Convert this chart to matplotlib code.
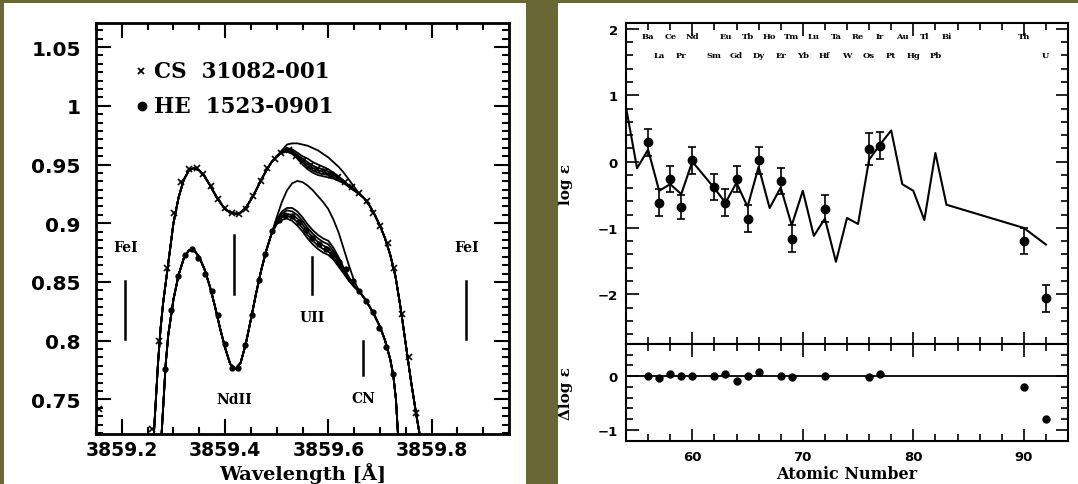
import matplotlib.pyplot as plt
import numpy as np
from matplotlib.patches import Rectangle
from matplotlib.ticker import MultipleLocator

# ---------------- left panel: spectra ----------------
# common parts of the synthetic spectra (wavelength, flux)
cs_left = [(3859.262, 0.72), (3859.266, 0.75), (3859.27, 0.78), (3859.275, 0.81), (3859.28, 0.832),
           (3859.29, 0.866), (3859.30, 0.900), (3859.31, 0.922), (3859.32, 0.937), (3859.33, 0.945),
           (3859.34, 0.947), (3859.35, 0.945), (3859.36, 0.940), (3859.37, 0.933), (3859.38, 0.925),
           (3859.39, 0.918), (3859.40, 0.912), (3859.41, 0.909), (3859.42, 0.908), (3859.43, 0.909),
           (3859.44, 0.913), (3859.45, 0.920), (3859.46, 0.928), (3859.47, 0.937), (3859.48, 0.945),
           (3859.49, 0.952), (3859.50, 0.957)]
cs_right = [(3859.66, 0.925), (3859.67, 0.921), (3859.68, 0.915), (3859.69, 0.907), (3859.70, 0.898),
            (3859.71, 0.887), (3859.72, 0.873), (3859.73, 0.855), (3859.74, 0.828), (3859.75, 0.797),
            (3859.76, 0.766), (3859.77, 0.738), (3859.777, 0.72)]
cs_mid_wl = [3859.51, 3859.52, 3859.53, 3859.54, 3859.55, 3859.56, 3859.57, 3859.58,
             3859.59, 3859.60, 3859.61, 3859.62, 3859.63, 3859.64, 3859.65]
cs_models = [
    [0.962, 0.967, 0.968, 0.968, 0.967, 0.966, 0.964, 0.962, 0.959, 0.956, 0.952, 0.948, 0.943, 0.937, 0.931],
    [0.961, 0.964, 0.963, 0.960, 0.957, 0.955, 0.952, 0.950, 0.948, 0.946, 0.943, 0.940, 0.936, 0.932, 0.928],
    [0.961, 0.963, 0.962, 0.958, 0.955, 0.952, 0.949, 0.947, 0.946, 0.944, 0.942, 0.939, 0.936, 0.932, 0.928],
    [0.960, 0.962, 0.961, 0.957, 0.953, 0.950, 0.947, 0.945, 0.944, 0.942, 0.941, 0.938, 0.935, 0.931, 0.928],
    [0.960, 0.962, 0.960, 0.956, 0.952, 0.948, 0.945, 0.943, 0.942, 0.941, 0.939, 0.937, 0.935, 0.931, 0.928],
    [0.960, 0.961, 0.959, 0.955, 0.950, 0.946, 0.943, 0.941, 0.940, 0.939, 0.938, 0.936, 0.934, 0.931, 0.928],
]

he_left = [(3859.277, 0.72), (3859.281, 0.75), (3859.285, 0.78), (3859.29, 0.805), (3859.30, 0.835),
           (3859.31, 0.856), (3859.32, 0.870), (3859.33, 0.877), (3859.34, 0.877), (3859.35, 0.871),
           (3859.36, 0.861), (3859.37, 0.847), (3859.38, 0.830), (3859.39, 0.811), (3859.40, 0.794),
           (3859.41, 0.780), (3859.42, 0.776), (3859.43, 0.781), (3859.44, 0.797), (3859.45, 0.818),
           (3859.46, 0.840), (3859.47, 0.860), (3859.48, 0.877), (3859.49, 0.891)]
he_right = [(3859.66, 0.842), (3859.67, 0.836), (3859.68, 0.829), (3859.69, 0.821), (3859.70, 0.812),
            (3859.71, 0.800), (3859.72, 0.784), (3859.726, 0.77), (3859.731, 0.75), (3859.735, 0.72)]
he_mid_wl = [3859.50, 3859.51, 3859.52, 3859.53, 3859.54, 3859.55, 3859.56, 3859.57,
             3859.58, 3859.59, 3859.60, 3859.61, 3859.62, 3859.63, 3859.64, 3859.65]
he_models = [
    [0.905, 0.918, 0.928, 0.934, 0.936, 0.935, 0.932, 0.928, 0.923, 0.918, 0.912, 0.903, 0.892, 0.878, 0.864, 0.851],
    [0.903, 0.910, 0.913, 0.913, 0.910, 0.905, 0.899, 0.894, 0.890, 0.887, 0.885, 0.879, 0.871, 0.862, 0.854, 0.847],
    [0.902, 0.908, 0.911, 0.910, 0.907, 0.902, 0.896, 0.891, 0.887, 0.884, 0.882, 0.876, 0.869, 0.861, 0.853, 0.846],
    [0.901, 0.906, 0.908, 0.907, 0.904, 0.899, 0.893, 0.888, 0.884, 0.881, 0.879, 0.874, 0.867, 0.860, 0.852, 0.846],
    [0.900, 0.905, 0.906, 0.905, 0.901, 0.896, 0.890, 0.885, 0.881, 0.878, 0.876, 0.871, 0.865, 0.858, 0.851, 0.846],
    [0.899, 0.903, 0.904, 0.902, 0.898, 0.893, 0.887, 0.882, 0.878, 0.875, 0.873, 0.869, 0.863, 0.857, 0.851, 0.846],
]

# observed points
cs_obs_wl = [3859.155, 3859.258, 3859.273, 3859.288, 3859.302, 3859.315, 3859.330, 3859.345, 3859.358,
             3859.372, 3859.386, 3859.400, 3859.413, 3859.427, 3859.441, 3859.455, 3859.469, 3859.482,
             3859.496, 3859.509, 3859.523, 3859.537, 3859.550, 3859.564, 3859.578, 3859.591, 3859.605,
             3859.619, 3859.632, 3859.646, 3859.660, 3859.674, 3859.687, 3859.701, 3859.715, 3859.728,
             3859.742, 3859.756, 3859.770]
cs_obs_fl = [0.742, 0.725, 0.800, 0.862, 0.909, 0.935, 0.946, 0.947, 0.942, 0.932, 0.921, 0.913, 0.909,
             0.908, 0.912, 0.923, 0.936, 0.947, 0.955, 0.960, 0.962, 0.957, 0.953, 0.949, 0.946, 0.944,
             0.941, 0.939, 0.935, 0.931, 0.926, 0.919, 0.909, 0.898, 0.883, 0.862, 0.823, 0.786, 0.738]
he_obs_wl = [3859.283, 3859.296, 3859.309, 3859.322, 3859.335, 3859.348, 3859.361, 3859.374, 3859.387,
             3859.400, 3859.413, 3859.426, 3859.439, 3859.452, 3859.465, 3859.478, 3859.491, 3859.504,
             3859.517, 3859.530, 3859.543, 3859.556, 3859.569, 3859.582, 3859.595, 3859.608, 3859.621,
             3859.634, 3859.647, 3859.660, 3859.673, 3859.686, 3859.699, 3859.712, 3859.725]
he_obs_fl = [0.776, 0.826, 0.855, 0.873, 0.878, 0.870, 0.857, 0.842, 0.822, 0.797, 0.777, 0.777, 0.796,
             0.822, 0.852, 0.874, 0.893, 0.903, 0.907, 0.906, 0.901, 0.894, 0.887, 0.882, 0.878, 0.874,
             0.867, 0.861, 0.851, 0.842, 0.834, 0.824, 0.811, 0.795, 0.772]

# line identifications: (label, wavelength, bar bottom, bar top, label y)
line_ids = [("FeI", 3859.207, 0.801, 0.851, 0.880),
            ("NdII", 3859.417, 0.840, 0.890, 0.750),
            ("UII", 3859.569, 0.840, 0.871, 0.820),
            ("CN", 3859.667, 0.771, 0.800, 0.751),
            ("FeI", 3859.867, 0.801, 0.851, 0.880)]

# ---------------- right panel: abundances ----------------
z_line = [54, 55, 56, 57, 58, 59, 60, 62, 63, 64, 65, 66, 67, 68, 69, 70, 71, 72, 73, 74, 75,
          76, 77, 78, 79, 80, 81, 82, 83, 90, 92]
eps_line = [0.82, -0.10, 0.18, -0.44, -0.34, -0.49, 0.00, -0.40, -0.62, -0.32, -0.68, -0.08, -0.70,
            -0.39, -0.96, -0.44, -1.12, -0.86, -1.51, -0.85, -0.94, 0.03, 0.26, 0.47, -0.34, -0.44,
            -0.88, 0.13, -0.65, -1.00, -1.25]
z_obs = [56, 57, 58, 59, 60, 62, 63, 64, 65, 66, 68, 69, 72, 76, 77, 90, 92]
eps_obs = [0.29, -0.62, -0.26, -0.69, 0.02, -0.38, -0.62, -0.26, -0.86, 0.02, -0.29, -1.16, -0.71,
           0.19, 0.24, -1.20, -2.06]
eps_err = [0.20, 0.20, 0.20, 0.18, 0.20, 0.20, 0.20, 0.20, 0.20, 0.20, 0.20, 0.20, 0.20,
           0.24, 0.20, 0.20, 0.20]
delta_obs = [0.00, -0.04, 0.05, 0.01, 0.01, 0.01, 0.04, -0.08, 0.00, 0.07, 0.01, -0.01, 0.01,
             -0.01, 0.04, -0.20, -0.80]

row1 = [("Ba", 56), ("Ce", 58), ("Nd", 60), ("Eu", 63), ("Tb", 65), ("Ho", 67), ("Tm", 69), ("Lu", 71),
        ("Ta", 73), ("Re", 75), ("Ir", 77), ("Au", 79), ("Tl", 81), ("Bi", 83), ("Th", 90)]
row2 = [("La", 57), ("Pr", 59), ("Sm", 62), ("Gd", 64), ("Dy", 66), ("Er", 68), ("Yb", 70), ("Hf", 72),
        ("W", 74), ("Os", 76), ("Pt", 78), ("Hg", 80), ("Pb", 82), ("U", 92)]

olive = '#6a6737'
fig = plt.figure(figsize=(10.78, 4.85), dpi=100, facecolor=olive)
fig.patches.append(Rectangle((4/1078, 0), 522/1078, 481/485, transform=fig.transFigure,
                             facecolor='white', edgecolor='none', zorder=-1))
fig.patches.append(Rectangle((558/1078, 0), 520/1078, 481/485, transform=fig.transFigure,
                             facecolor='white', edgecolor='none', zorder=-1))

tick_font = 'DejaVu Sans'
serif = 'DejaVu Serif'

# left axes
ax = fig.add_axes([96/1078, 1-435/485, 413/1078, 411/485])
for mid, left, right, models in [(cs_mid_wl, cs_left, cs_right, cs_models),
                                 (he_mid_wl, he_left, he_right, he_models)]:
    for m in models:
        wl = [p[0] for p in left] + mid + [p[0] for p in right]
        fl = [p[1] for p in left] + m + [p[1] for p in right]
        ax.plot(wl, fl, color='k', lw=1.3)
ax.plot(cs_obs_wl, cs_obs_fl, 'x', color='k', ms=4, mew=1.2)
ax.plot(he_obs_wl, he_obs_fl, 'o', color='k', ms=3.5)
for name, wl, y0, y1, ly in line_ids:
    ax.plot([wl, wl], [y0, y1], color='k', lw=1.8)
    ax.text(wl, ly, name, ha='center', va='center', family=serif, weight='bold', fontsize=10)
ax.plot([3859.237], [1.0295], 'x', color='k', ms=5, mew=1.3)
ax.text(3859.262, 1.0295, "CS  31082-001", va='center', family=serif, weight='bold', fontsize=15.5)
ax.plot([3859.240], [1.0], 'o', color='k', ms=6)
ax.text(3859.262, 1.0, "HE  1523-0901", va='center', family=serif, weight='bold', fontsize=15.5)

ax.set_xlim(3859.15, 3859.95)
ax.set_ylim(0.7205, 1.0705)
ax.xaxis.set_minor_locator(MultipleLocator(0.05))
ax.yaxis.set_minor_locator(MultipleLocator(0.05/7))
ax.set_yticks([0.75, 0.8, 0.85, 0.9, 0.95, 1.0, 1.05])
ax.set_yticklabels(['0.75', '0.8', '0.85', '0.9', '0.95', '1', '1.05'])
ax.set_xticks([3859.2, 3859.4, 3859.6, 3859.8])
ax.set_xticklabels(['3859.2', '3859.4', '3859.6', '3859.8'])
ax.tick_params(which='both', direction='in', top=True, right=True, width=1.5)
ax.tick_params(which='major', length=11)
ax.tick_params(axis='x', which='major', pad=4, labelsize=13.5)
ax.tick_params(axis='y', which='major', pad=11, labelsize=14.5)
ax.tick_params(which='minor', length=5)
for lab in ax.get_xticklabels() + ax.get_yticklabels():
    lab.set_family(tick_font)
    lab.set_weight('bold')
for s in ax.spines.values():
    s.set_linewidth(2)
ax.set_xlabel("Wavelength [Å]", family=serif, weight='bold', fontsize=14)
ax.xaxis.set_label_coords(0.5, -(484 - 435) / 411, transform=ax.transAxes)
ax.xaxis.label.set_va('bottom')

# right top axes
ax1 = fig.add_axes([626/1078, 1-345/485, 442/1078, 321/485])
ax1.plot(z_line, eps_line, color='k', lw=1.5)
ax1.errorbar(z_obs, eps_obs, yerr=eps_err, fmt='o', color='k', ms=6, capsize=3, elinewidth=1.2, capthick=1.2)
for name, z in row1:
    ax1.text(z, 1.9, name, ha='center', va='center', family=serif, weight='bold', fontsize=6)
for name, z in row2:
    ax1.text(z, 1.6, name, ha='center', va='center', family=serif, weight='bold', fontsize=6)
ax1.set_xlim(54, 94)
ax1.set_ylim(-2.75, 2.09)
ax1.xaxis.set_major_locator(MultipleLocator(10))
ax1.xaxis.set_minor_locator(MultipleLocator(2))
ax1.yaxis.set_major_locator(MultipleLocator(1))
ax1.yaxis.set_minor_locator(MultipleLocator(0.2))
ax1.tick_params(labelbottom=False)
ax1.set_ylabel("log ε", family=serif, weight='bold', fontsize=11)
ax1.yaxis.set_label_coords(-(626 - 573) / 442, 0.5, transform=ax1.transAxes)

# right bottom axes
ax2 = fig.add_axes([626/1078, 1-441.7/485, 442/1078, 96.7/485])
ax2.axhline(0, color='k', lw=1.3)
ax2.plot(z_obs, delta_obs, 'o', color='k', ms=5)
ax2.set_xlim(54, 94)
ax2.set_ylim(-1.2, 0.6)
ax2.xaxis.set_major_locator(MultipleLocator(10))
ax2.xaxis.set_minor_locator(MultipleLocator(2))
ax2.yaxis.set_major_locator(MultipleLocator(1))
ax2.yaxis.set_minor_locator(MultipleLocator(0.2))
ax2.set_xlabel("Atomic Number", family=serif, weight='bold', fontsize=11.5)
ax2.xaxis.set_label_coords(0.5, -(483 - 441.7) / 96.7, transform=ax2.transAxes)
ax2.xaxis.label.set_va('bottom')
ax2.set_ylabel("Δlog ε", family=serif, weight='bold', fontsize=11)
ax2.yaxis.set_label_coords(-(626 - 573) / 442, 0.5, transform=ax2.transAxes)

for a in (ax1, ax2):
    a.tick_params(which='both', direction='in', top=True, right=True, width=1.2)
    a.tick_params(which='major', length=9, labelsize=9.5, pad=6)
    a.tick_params(axis='x', which='major', pad=7)
    a.tick_params(which='minor', length=5)
    for lab in a.get_xticklabels() + a.get_yticklabels():
        lab.set_family(tick_font)
        lab.set_weight('bold')
    for s in a.spines.values():
        s.set_linewidth(1.5)

fig.savefig("out.png", dpi=100, facecolor=olive)
